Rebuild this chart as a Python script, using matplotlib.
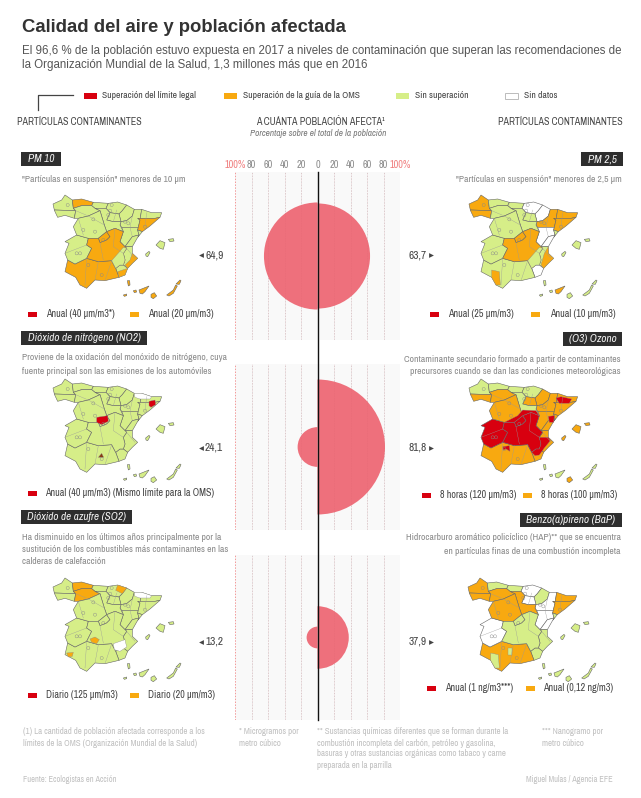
import matplotlib
matplotlib.use("Agg")
import matplotlib.pyplot as plt
from matplotlib import font_manager
from matplotlib.patches import Polygon, Rectangle, Wedge

ANCHO, ALTO = 641, 798

ROJO = "#d8000f"
NARANJA = "#f8a910"
VERDE = "#d6ee88"
BLANCO = "#ffffff"
CIRCULO = "#ee707c"

nombres = {f.name for f in font_manager.fontManager.ttflist}
ESTRECHA = "Archivo Narrow" if "Archivo Narrow" in nombres else "Liberation Sans"
plt.rcParams["font.family"] = "Liberation Sans"

# porcentaje de poblacion afectada por panel
contaminantes_izq = ["PM 10", "Dióxido de nitrógeno (NO2)", "Dióxido de azufre (SO2)"]
contaminantes_der = ["PM 2,5", "(O3) Ozono", "Benzo(a)pireno (BaP)"]
valores_izq = [64.9, 24.1, 13.2]
valores_der = [63.7, 81.8, 37.9]
escala_ticks = [-100, -80, -60, -40, -20, 0, 20, 40, 60, 80, 100]
escala_labels = ["100%", "80", "60", "40", "20", "0", "20", "40", "60", "80", "100%"]

# contornos de las zonas, en la rejilla del mapa (435 x 345)
ZONAS_BASE = {
    "galicia_n": [(60, 15), (82, 30), (85, 55), (92, 62), (28, 60), (24, 42), (50, 30)],
    "galicia_s": [(28, 60), (92, 62), (88, 85), (60, 76), (38, 82), (30, 65)],
    "asturias": [(82, 30), (110, 27), (145, 37), (140, 47), (110, 47), (85, 55)],
    "cantabria": [(145, 37), (190, 40), (183, 55), (150, 55), (140, 47)],
    "euskadi": [(190, 40), (218, 36), (245, 45), (232, 62), (222, 72), (195, 68), (183, 55)],
    "navarra": [(245, 45), (268, 58), (262, 78), (245, 92), (228, 95), (222, 72), (232, 62)],
    "rioja": [(195, 68), (222, 72), (228, 95), (205, 95), (185, 90)],
    "aragon_n": [(245, 92), (262, 78), (268, 58), (290, 58), (285, 90), (280, 112), (230, 112), (225, 105), (228, 95)],
    "aragon_s": [(230, 112), (280, 112), (278, 120), (282, 135), (262, 140), (240, 170), (225, 155), (235, 125)],
    "cat_n": [(290, 58), (320, 68), (350, 68), (345, 82), (330, 85), (278, 85), (285, 90)],
    "cat_s": [(278, 85), (330, 85), (345, 82), (315, 108), (292, 125), (278, 120), (285, 90)],
    "ebro": [(278, 120), (292, 125), (278, 142), (282, 135)],
    "val_n": [(282, 135), (278, 142), (262, 170), (240, 170), (262, 140)],
    "val_s": [(240, 170), (262, 170), (262, 190), (278, 205), (262, 220), (248, 235), (235, 225), (240, 210), (235, 190), (245, 175)],
    "murcia": [(248, 235), (240, 255), (222, 262), (212, 235), (225, 225), (235, 225)],
    "andalucia": [(222, 262), (180, 272), (150, 270), (125, 295), (105, 285), (92, 262), (60, 245), (68, 210), (90, 222), (125, 205), (160, 215), (200, 212), (212, 235)],
    "extremadura": [(68, 210), (60, 190), (72, 160), (60, 155), (95, 135), (130, 145), (125, 165), (140, 175), (125, 205), (90, 222)],
    "cyl_leon": [(85, 55), (110, 47), (140, 47), (150, 55), (165, 62), (130, 78), (100, 85), (88, 85), (92, 62)],
    "cyl_burgos": [(150, 55), (183, 55), (195, 68), (185, 90), (205, 95), (228, 95), (225, 105), (235, 125), (210, 115), (185, 125), (178, 105), (165, 62)],
    "cyl_centro": [(100, 85), (130, 78), (165, 62), (178, 105), (185, 125), (160, 145), (130, 145), (95, 135), (85, 110)],
    "madrid": [(185, 125), (195, 140), (185, 150), (165, 158), (160, 145)],
    "clm": [(235, 125), (210, 115), (185, 125), (195, 140), (185, 150), (165, 158), (160, 145), (130, 145), (125, 165), (140, 175), (125, 205), (160, 215), (200, 212), (212, 235), (225, 225), (235, 225), (240, 210), (235, 190), (245, 175), (240, 170), (225, 155)],
    "mallorca": [(333, 165), (345, 152), (360, 158), (355, 178), (345, 175)],
    "menorca": [(370, 148), (385, 146), (387, 153), (375, 155)],
    "ibiza": [(302, 192), (312, 184), (315, 188), (308, 200), (303, 198)],
    "la_palma": [(247, 272), (254, 272), (255, 285), (250, 288)],
    "hierro": [(235, 315), (245, 312), (245, 317), (238, 319)],
    "gomera": [(265, 302), (273, 300), (275, 306), (268, 308)],
    "tenerife": [(282, 300), (312, 288), (300, 305), (292, 312), (285, 310)],
    "gran_canaria": [(318, 313), (328, 308), (335, 318), (325, 326), (318, 322)],
    "fuerteventura": [(365, 315), (385, 300), (392, 285), (397, 288), (385, 310), (372, 318)],
    "lanzarote": [(393, 282), (405, 270), (408, 272), (403, 283)],
}

# zonas pequenas que solo se pintan en algunos mapas
ZONAS_EXTRA = {
    "clm_se": [(235, 172), (245, 175), (235, 190), (240, 210), (235, 225), (225, 225), (212, 235), (200, 212)],
    "val_costa": [(262, 190), (278, 205), (262, 220), (248, 235), (240, 225), (255, 210)],
    "val_centro": [(262, 170), (262, 190), (278, 205), (262, 220), (248, 235), (240, 225), (250, 190)],
    "murcia_costa": [(248, 235), (240, 255), (222, 262), (218, 245)],
    "murcia_n": [(212, 235), (225, 225), (235, 225), (240, 210), (235, 190), (262, 190), (268, 200), (250, 222), (235, 243), (222, 245)],
    "segovia": [(130, 145), (160, 145), (185, 125), (210, 115), (235, 125), (225, 110), (185, 108), (170, 125)],
    "pirineo": [(268, 58), (290, 58), (320, 68), (315, 75), (285, 75), (270, 70)],
    "gipuzkoa": [(218, 36), (245, 45), (232, 62), (212, 52)],
    "barna": [(312, 82), (330, 78), (332, 92), (318, 100), (312, 95)],
    "madrid_c": [(155, 130), (188, 125), (190, 142), (170, 152), (155, 145)],
    "granada": [(160, 250), (170, 238), (176, 250)],
    "puertollano": [(135, 198), (150, 192), (163, 200), (155, 212), (140, 208)],
    "huelva": [(65, 240), (85, 238), (82, 250), (70, 252)],
    "and_sw": [(92, 240), (115, 245), (118, 285), (105, 285), (92, 262)],
    "murcia_o": [(205, 212), (240, 200), (245, 222), (225, 235), (208, 230)],
    "teruel": [(262, 127), (280, 125), (278, 145), (265, 145)],
    "cat_franja": [(285, 72), (300, 68), (332, 75), (325, 88), (295, 88)],
    "cordoba": [(125, 218), (145, 215), (147, 232), (135, 225), (127, 228)],
    "and_mancha": [(145, 225), (155, 225), (155, 245), (145, 245)],
}

# lo que no aparece en un mapa queda en verde
MAPA_PM10 = {
    "asturias": NARANJA, "cat_s": NARANJA, "clm": NARANJA, "madrid": NARANJA, "clm_se": VERDE,
    "val_costa": NARANJA, "murcia_costa": NARANJA, "andalucia": NARANJA, "la_palma": NARANJA,
    "gomera": NARANJA, "tenerife": NARANJA, "gran_canaria": NARANJA, "fuerteventura": NARANJA,
    "lanzarote": NARANJA, "hierro": NARANJA,
}
MAPA_PM25 = {
    "galicia_n": NARANJA, "galicia_s": NARANJA, "euskadi": BLANCO, "navarra": BLANCO,
    "aragon_n": NARANJA, "aragon_s": BLANCO, "cat_n": NARANJA, "cat_s": NARANJA, "val_n": BLANCO,
    "val_centro": NARANJA, "murcia": BLANCO, "clm": NARANJA, "madrid": NARANJA, "clm_se": VERDE,
    "and_sw": NARANJA, "tenerife": NARANJA,
}
MAPA_NO2 = {"pirineo": BLANCO, "madrid_c": ROJO, "barna": ROJO, "granada": "#8a3a10"}
MAPA_O3 = {
    "galicia_s": NARANJA, "navarra": NARANJA, "rioja": NARANJA, "aragon_n": NARANJA, "aragon_s": NARANJA,
    "cat_n": NARANJA, "cat_s": NARANJA, "ebro": NARANJA, "val_n": NARANJA, "val_s": NARANJA,
    "murcia": NARANJA, "andalucia": NARANJA, "extremadura": ROJO, "cyl_leon": NARANJA,
    "cyl_centro": NARANJA, "madrid": ROJO, "clm": ROJO, "segovia": ROJO, "murcia_n": ROJO,
    "teruel": ROJO, "cat_franja": ROJO, "cordoba": ROJO, "mallorca": NARANJA, "menorca": NARANJA,
    "ibiza": NARANJA, "gran_canaria": NARANJA,
}
MAPA_SO2 = {
    "asturias": NARANJA, "cyl_leon": NARANJA, "gipuzkoa": NARANJA, "puertollano": NARANJA,
    "huelva": NARANJA, "pirineo": BLANCO, "murcia_o": BLANCO,
}
MAPA_BAP = {
    "galicia_n": NARANJA, "galicia_s": NARANJA, "euskadi": BLANCO, "rioja": BLANCO,
    "aragon_n": BLANCO, "aragon_s": BLANCO, "cat_n": NARANJA, "cat_s": NARANJA, "val_n": BLANCO,
    "extremadura": BLANCO, "cyl_leon": NARANJA, "cyl_burgos": NARANJA, "cyl_centro": NARANJA,
    "andalucia": NARANJA, "and_sw": VERDE, "and_mancha": VERDE,
}

# pequenas aglomeraciones que salen en todos los mapas
ciudades_x = [68, 145, 190, 240, 115, 200, 150, 95, 105, 130, 170, 250, 300, 195, 175]
ciudades_y = [45, 88, 75, 95, 120, 45, 125, 190, 190, 225, 255, 100, 110, 62, 150]

# lineas provinciales interiores
LINEAS = [
    [(92, 62), (130, 78), (178, 105)],
    [(100, 85), (115, 135)],
    [(60, 190), (125, 165)],
    [(125, 205), (120, 285)],
    [(160, 215), (150, 270)],
    [(200, 212), (180, 272)],
    [(165, 158), (175, 210)],
    [(210, 115), (205, 170), (235, 190)],
    [(262, 78), (255, 112), (262, 140)],
    [(305, 68), (300, 110)],
    [(245, 175), (270, 205)],
    [(205, 95), (215, 60)],
]

MAPAS = [
    (45, 190, MAPA_PM10), (461, 190, MAPA_PM25),
    (45, 374, MAPA_NO2), (461, 374, MAPA_O3),
    (45, 573, MAPA_SO2), (460, 573, MAPA_BAP),
]


def dibuja_mapa(fig, x0, y0, mapa):
    ax = fig.add_axes([x0 / ANCHO, 1 - (y0 + 115) / ALTO, 145 / ANCHO, 115 / ALTO])
    ax.set_xlim(0, 435)
    ax.set_ylim(345, 0)
    ax.axis("off")
    for nombre, puntos in ZONAS_BASE.items():
        ax.add_patch(Polygon(puntos, closed=True, fc=mapa.get(nombre, VERDE), ec="#666666", lw=0.4))
    for nombre, puntos in ZONAS_EXTRA.items():
        if nombre in mapa:
            ax.add_patch(Polygon(puntos, closed=True, fc=mapa[nombre], ec="#888888", lw=0.25))
    for linea in LINEAS:
        ax.plot([p[0] for p in linea], [p[1] for p in linea], color="#999999", lw=0.25)
    ax.scatter(ciudades_x, ciudades_y, s=5, fc="none", ec="#888888", lw=0.3)


def dibuja_panel(fig, y0, y1, izq, der, con_ticks=False):
    # 82.5 px son 100 puntos; el radio del circulo es el propio porcentaje
    ax = fig.add_axes([235 / ANCHO, 1 - y1 / ALTO, 165 / ANCHO, (y1 - y0) / ALTO])
    alto_u = (y1 - y0) / 0.825
    ax.set_xlim(-100, 100)
    ax.set_ylim(-alto_u / 2, alto_u / 2)
    ax.set_facecolor("#f9f9f9")
    for s in ax.spines.values():
        s.set_visible(False)
    ax.set_yticks([])
    ax.set_xticks(escala_ticks)
    for t in escala_ticks:
        color = "#f29a9a" if abs(t) == 100 else "#dddddd"
        if t != 0:
            ax.axvline(t, color=color, lw=0.7, ls=(0, (1.5, 1.5)), zorder=1)
    ax.add_patch(Wedge((0, 0), izq, 90, 270, fc=CIRCULO, ec="none", zorder=2))
    ax.add_patch(Wedge((0, 0), der, -90, 90, fc=CIRCULO, ec="none", zorder=2))
    for t in escala_ticks[1:-1]:
        if t != 0:
            ax.axvline(t, color="#d9606c", lw=0.4, alpha=0.35, ls=(0, (1.5, 1.5)), zorder=3)
    ax.tick_params(length=0, top=con_ticks, bottom=False, labeltop=con_ticks, labelbottom=False, pad=1.5)
    if con_ticks:
        ax.set_xticklabels(escala_labels, family=ESTRECHA, fontsize=7.4)
        for etiqueta, t in zip(ax.get_xticklabels(), escala_ticks):
            etiqueta.set_color("#f07f7f" if abs(t) == 100 else "#8c8c8c")


fig = plt.figure(figsize=(ANCHO / 100, ALTO / 100), dpi=100)

# capa de fondo en pixeles para textos y etiquetas
lienzo = fig.add_axes([0, 0, 1, 1], zorder=5)
lienzo.set_xlim(0, ANCHO)
lienzo.set_ylim(ALTO, 0)
lienzo.axis("off")
lienzo.patch.set_alpha(0)


def texto(x, y, s, size=6.9, color="#555555", ha="left", fam=None, **kw):
    lienzo.text(x, y, s, fontsize=size, color=color, ha=ha, va="center", family=fam or ESTRECHA, **kw)


def etiqueta(x0, x1, y0, y1, s):
    lienzo.add_patch(Rectangle((x0, y0), x1 - x0, y1 - y0, fc="#2e2e2e", ec="none"))
    texto((x0 + x1) / 2, (y0 + y1) / 2, s, size=8, color="#f2f2f2", ha="center", style="italic")


def muestra(x, y, color, ancho=10, alto=6):
    lienzo.add_patch(Rectangle((x, y - alto / 2), ancho, alto, fc=color, ec="#bbbbbb" if color == BLANCO else "none", lw=0.7))


# cabecera
texto(22, 28, "Calidad del aire y población afectada", size=13.3, color="#333333", fam="Liberation Sans", weight="bold")
texto(22, 51, "El 96,6 % de la población estuvo expuesta en 2017 a niveles de contaminación que superan las recomendaciones de",
      size=8.3, fam="Liberation Sans")
texto(22, 65, "la Organización Mundial de la Salud, 1,3 millones más que en 2016", size=8.3, fam="Liberation Sans")

# leyenda general
lienzo.plot([73, 38, 38], [95, 95, 110], color="#444444", lw=0.9)
for x_m, color, x_t, s in [
    (84, ROJO, 102, "Superación del límite legal"),
    (224, NARANJA, 243, "Superación de la guía de la OMS"),
    (396, VERDE, 415, "Sin superación"),
    (505, BLANCO, 524, "Sin datos"),
]:
    muestra(x_m, 95.5, color, ancho=13)
    texto(x_t, 95.5, s, size=6.9, color="#444444")

texto(17, 122, "PARTÍCULAS CONTAMINANTES", size=7.2, color="#444444", weight="bold")
texto(623, 122, "PARTÍCULAS CONTAMINANTES", size=7.2, color="#444444", ha="right", weight="bold")
texto(320, 122, "A CUÁNTA POBLACIÓN AFECTA¹", size=7.2, color="#444444", ha="center", weight="bold")
texto(318, 134, "Porcentaje sobre el total de la población", size=6.7, color="#777777", ha="center", style="italic")

# paneles centrales
dibuja_panel(fig, 172, 340, valores_izq[0], valores_der[0], con_ticks=True)
dibuja_panel(fig, 364, 530, valores_izq[1], valores_der[1])
dibuja_panel(fig, 555, 720, valores_izq[2], valores_der[2])
lienzo.plot([317.5, 317.5], [172, 720], color="#111111", lw=1.0)

for x0, y0, mapa in MAPAS:
    dibuja_mapa(fig, x0, y0, mapa)

# etiquetas de cada contaminante
etiqueta(21, 61, 152, 166, contaminantes_izq[0])
etiqueta(581, 623, 152, 166, contaminantes_der[0])
etiqueta(21, 147, 331, 345, contaminantes_izq[1])
etiqueta(563, 622, 332, 346, contaminantes_der[1])
etiqueta(21, 132, 510, 524, contaminantes_izq[2])
etiqueta(520, 622, 513, 527, contaminantes_der[2])

# descripciones
GRIS = "#8a8a8a"
texto(22, 179, "\"Partículas en suspensión\" menores de 10 µm", color=GRIS)
texto(622, 179, "\"Partículas en suspensión\" menores de 2,5 µm", color=GRIS, ha="right")
texto(22, 358, "Proviene de la oxidación del monóxido de nitrógeno, cuya", color=GRIS)
texto(22, 371, "fuente principal son las emisiones de los automóviles", color=GRIS)
texto(621, 359, "Contaminante secundario formado a partir de contaminantes", color=GRIS, ha="right")
texto(621, 372, "precursores cuando se dan las condiciones meteorológicas", color=GRIS, ha="right")
texto(22, 537, "Ha disminuido en los últimos años principalmente por la", color=GRIS)
texto(22, 549, "sustitución de los combustibles más contaminantes en las", color=GRIS)
texto(22, 561, "calderas de calefacción", color=GRIS)
texto(621, 538, "Hidrocarburo aromático policíclico (HAP)** que se encuentra", color=GRIS, ha="right")
texto(621, 552, "en partículas finas de una combustión incompleta", color=GRIS, ha="right")

# leyendas de los mapas
for y, x_r, x_t1, s1, x_n, x_t2, s2 in [
    (314, 28, 46, "Anual (40 µm/m3*)", 130, 148, "Anual (20 µm/m3)"),
    (314, 430, 448, "Anual (25 µm/m3)", 531, 550, "Anual (10 µm/m3)"),
    (493, 28, 45, "Anual (40 µm/m3) (Mismo límite para la OMS)", None, None, None),
    (495, 422, 440, "8 horas (120 µm/m3)", 523, 541, "8 horas (100 µm/m3)"),
    (695, 28, 46, "Diario (125 µm/m3)", 130, 148, "Diario (20 µm/m3)"),
    (688, 427, 445, "Anual (1 ng/m3***)", 526, 543, "Anual (0,12 ng/m3)"),
]:
    muestra(x_r, y, ROJO, ancho=9, alto=5)
    texto(x_t1, y, s1, size=7.2, color="#444444")
    if x_n is not None:
        muestra(x_n, y, NARANJA, ancho=9, alto=5)
        texto(x_t2, y, s2, size=7.2, color="#444444")

# cifras junto a los circulos
for y, v in zip([255, 448, 642], valores_izq):
    lienzo.scatter([201], [y], marker="<", s=12, color="#444444", lw=0)
    texto(205, y, f"{v:.1f}".replace(".", ","), size=8.2, color="#444444", weight="bold")
for y, v in zip([255, 448, 642], valores_der):
    lienzo.scatter([431], [y], marker=">", s=12, color="#444444", lw=0)
    texto(427, y, f"{v:.1f}".replace(".", ","), size=8.2, color="#444444", ha="right", weight="bold")

# notas
NOTA = "#c0c0c0"
texto(23, 732, "(1) La cantidad de población afectada corresponde a los", size=6.4, color=NOTA)
texto(23, 743, "límites de la OMS (Organización Mundial de la Salud)", size=6.4, color=NOTA)
texto(239, 732, "* Microgramos por", size=6.4, color=NOTA)
texto(239, 743, "metro cúbico", size=6.4, color=NOTA)
texto(317, 732, "** Sustancias químicas diferentes que se forman durante la", size=6.4, color=NOTA)
texto(317, 743, "combustión incompleta del carbón, petróleo y gasolina,", size=6.4, color=NOTA)
texto(317, 754, "basuras y otras sustancias orgánicas como tabaco y carne", size=6.4, color=NOTA)
texto(317, 765, "preparada en la parrilla", size=6.4, color=NOTA)
texto(542, 732, "*** Nanogramo por", size=6.4, color=NOTA)
texto(542, 743, "metro cúbico", size=6.4, color=NOTA)
texto(23, 779, "Fuente: Ecologistas en Acción", size=6, color=NOTA)
texto(613, 779, "Miguel Mulas / Agencia EFE", size=6, color=NOTA, ha="right")

lienzo.set_xlim(0, ANCHO)
lienzo.set_ylim(ALTO, 0)
fig.savefig("out.png", dpi=100)
